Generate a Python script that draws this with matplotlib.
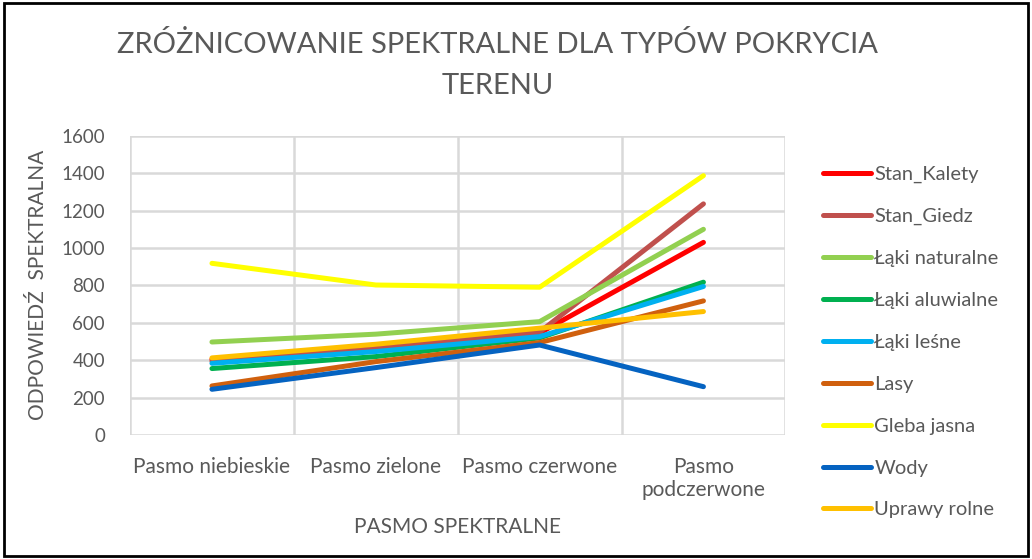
import numpy as np
import matplotlib.pyplot as plt
from matplotlib.patches import Rectangle

plt.rcParams['font.family'] = ['Lato', 'DejaVu Sans']

bands = ['Pasmo niebieskie', 'Pasmo zielone', 'Pasmo czerwone', 'Pasmo\npodczerwone']

# series
stan_kalety = [405, 470, 545, 1030]
stan_giedz = [395, 460, 550, 1236]
laki_naturalne = [497, 539, 606, 1100]
laki_aluwialne = [355, 419, 519, 817]
laki_lesne = [383, 446, 526, 794]
lasy = [262, 392, 494, 717]
gleba_jasna = [918, 802, 790, 1387]
wody = [244, 360, 481, 258]
uprawy_rolne = [412, 485, 571, 660]

names = ['Stan_Kalety', 'Stan_Giedz', 'Łąki naturalne', 'Łąki aluwialne',
         'Łąki leśne', 'Lasy', 'Gleba jasna', 'Wody', 'Uprawy rolne']
series = [stan_kalety, stan_giedz, laki_naturalne, laki_aluwialne,
          laki_lesne, lasy, gleba_jasna, wody, uprawy_rolne]
colors = ['#FF0000', '#C0504D', '#92D050', '#00B050', '#00B0F0',
          '#D0600E', '#FFFF00', '#0563C1', '#FFC000']

fig = plt.figure(figsize=(10.32, 5.59), dpi=100)
ax = fig.add_axes([0.126, 0.222, 0.635, 0.535])

x = np.arange(len(bands))
for name, vals, c in zip(names, series, colors):
    ax.plot(x, vals, color=c, lw=3.6, label=name, solid_capstyle='round')

ax.set_xlim(-0.5, 3.5)
ax.set_ylim(0, 1600)
ax.set_yticks(np.arange(0, 1601, 200))
ax.set_xticks(x)
ax.set_xticklabels(bands)
ax.set_xticks(np.arange(-0.5, 3.6, 1), minor=True)
ax.grid(True, which='major', axis='y', color='#d9d9d9', lw=1.8)
ax.grid(True, which='minor', axis='x', color='#d9d9d9', lw=1.8)
ax.set_axisbelow(True)
for s in ax.spines.values():
    s.set_visible(False)
ax.tick_params(which='both', length=0, colors='#595959')
ax.tick_params(axis='y', labelsize=13.5, pad=18)
ax.tick_params(axis='x', labelsize=15, pad=16)

ax.set_xlabel('PASMO SPEKTRALNE', fontsize=15, color='#595959', labelpad=12)
ax.set_ylabel('ODPOWIEDŹ  SPEKTRALNA', fontsize=15, color='#595959', labelpad=10)

fig.text(0.482, 0.92, 'ZRÓŻNICOWANIE SPEKTRALNE DLA TYPÓW POKRYCIA',
         ha='center', va='center', fontsize=21, color='#595959')
fig.text(0.482, 0.847, 'TERENU', ha='center', va='center', fontsize=21,
         color='#595959')

leg = ax.legend(loc='upper left', bbox_to_anchor=(1.03, 0.96), frameon=False,
                fontsize=14.5, handlelength=2.4, handletextpad=0.15,
                labelspacing=1.23, labelcolor='#595959')

fig.add_artist(Rectangle((0.004, 0.006), 0.992, 0.988, transform=fig.transFigure,
                         fill=False, edgecolor='black', lw=2))

fig.savefig('out.png', dpi=100)
